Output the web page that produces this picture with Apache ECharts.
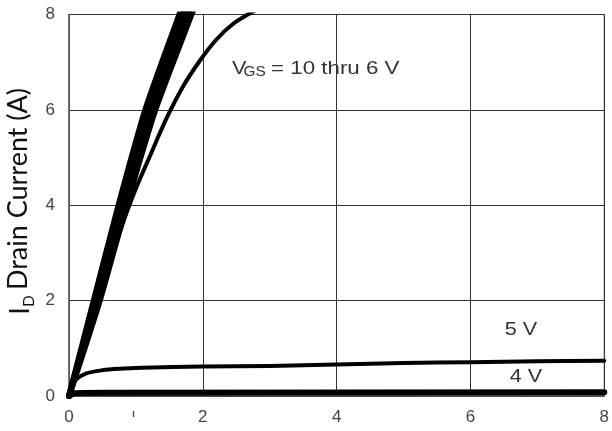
<!DOCTYPE html>
<html><head><meta charset="utf-8">
<script src="https://cdn.jsdelivr.net/npm/echarts@6/dist/echarts.min.js"></script>
<style>html,body{margin:0;padding:0;background:#fff}#c{width:612px;height:431px}</style>
</head><body><div id="c"></div>
<script>
// Output characteristics: drain current (A) vs drain-source voltage (V)
const xMin = 0, xMax = 8, xStep = 2;
const yMin = 0, yMax = 8, yStep = 2;
// V_GS = 10 thru 7 V (bundled, nearly coincident)
const vgs10 = [[0,0],[0.37,2],[0.74,4],[1.14,6],[1.65,8],[1.73,8.3]];
const vgs9  = [[0,0],[0.40,2],[0.78,4],[1.19,6],[1.71,8],[1.79,8.3]];
const vgs8  = [[0,0],[0.43,2],[0.82,4],[1.24,6],[1.77,8],[1.85,8.3]];
const vgs7  = [[0,0],[0.46,2],[0.86,4],[1.29,6],[1.83,8],[1.91,8.3]];
// V_GS = 6 V
const vgs6  = [[0,0],[0.44,2],[0.8,3.6],[1.0,4.35],[1.2,5.0],[1.45,5.8],[1.7,6.48],[1.95,7.02],[2.2,7.47],[2.45,7.8],[2.7,8.02],[2.95,8.2]];
// V_GS = 5 V
const vgs5  = [[0,0],[0.05,0.22],[0.1,0.34],[0.25,0.47],[0.5,0.54],[0.75,0.57],[1.1,0.59],[2,0.62],[3,0.63],[4,0.66],[5,0.69],[6,0.71],[7,0.73],[8,0.74]];
// V_GS = 4 V
const vgs4  = [[0,0],[0.08,0.06],[0.5,0.07],[8,0.08]];
const yTitle = 'Drain Current (A)';

const chart = echarts.init(document.getElementById('c'), null, {renderer:'canvas'});
function line(name, data, w, sm){
  return {name, type:'line', data, showSymbol:false, smooth:sm, clip:true,
    lineStyle:{color:'#000', width:w, cap:'round', join:'round'}, itemStyle:{color:'#000'}, z:3};
}
const tickFont = {fontFamily:'Liberation Sans', fontSize:17, color:'#444'};
chart.setOption({
  animation:false,
  backgroundColor:'#fff',
  grid:{left:69, right:7, top:14.5, bottom:35, show:true, borderColor:'#333', borderWidth:1},
  xAxis:{type:'value', min:xMin, max:xMax, interval:xStep,
    axisLine:{show:true, lineStyle:{color:'#555', width:1.5}}, axisTick:{show:false},
    axisLabel:Object.assign({margin:13}, tickFont),
    splitLine:{show:true, lineStyle:{color:'#333', width:1}}},
  yAxis:{type:'value', min:yMin, max:yMax, interval:yStep,
    axisLine:{show:true, lineStyle:{color:'#666', width:1.5}}, axisTick:{show:false},
    axisLabel:Object.assign({margin:14}, tickFont),
    splitLine:{show:true, lineStyle:{color:'#333', width:1}}},
  series:[
    line('10 V', vgs10, 6, 0.2), line('9 V', vgs9, 6, 0.2), line('8 V', vgs8, 6, 0.2), line('7 V', vgs7, 6, 0.2),
    line('6 V', vgs6, 4, 0.3), line('5 V', vgs5, 4, 0.3), line('4 V', vgs4, 6, 0.1)
  ],
  graphic:[
    {type:'text', x:18, y:189, rotation:Math.PI/2, style:{text:yTitle, font:'27px Lato', fill:'#111', align:'center', verticalAlign:'middle'}},
    {type:'text', x:20, y:311, rotation:Math.PI/2, style:{text:'I', font:'27px Lato', fill:'#111', align:'center', verticalAlign:'middle'}},
    {type:'text', x:29, y:301, rotation:Math.PI/2, style:{text:'D', font:'15px Lato', fill:'#111', align:'center', verticalAlign:'middle'}},
    {type:'text', x:232, y:69.5, scaleX:1.2, style:{text:'V', font:'18px Liberation Sans', fill:'#333', align:'left', verticalAlign:'middle'}},
    {type:'text', x:243.5, y:72.5, scaleX:1.1, style:{text:'GS', font:'14px Liberation Sans', fill:'#333', align:'left', verticalAlign:'middle'}},
    {type:'text', x:271, y:69.5, scaleX:1.24, style:{text:'= 10 thru 6 V', font:'18px Liberation Sans', fill:'#333', align:'left', verticalAlign:'middle'}},
    {type:'text', x:521, y:330.5, scaleX:1.2, style:{text:'5 V', font:'18px Liberation Sans', fill:'#333', align:'center', verticalAlign:'middle'}},
    {type:'text', x:526, y:377.5, scaleX:1.2, style:{text:'4 V', font:'18px Liberation Sans', fill:'#333', align:'center', verticalAlign:'middle'}},
    {type:'line', shape:{x1:133.5, y1:411, x2:133.5, y2:417}, style:{stroke:'#555', lineWidth:1.5}}
  ]
});
</script></body></html>
